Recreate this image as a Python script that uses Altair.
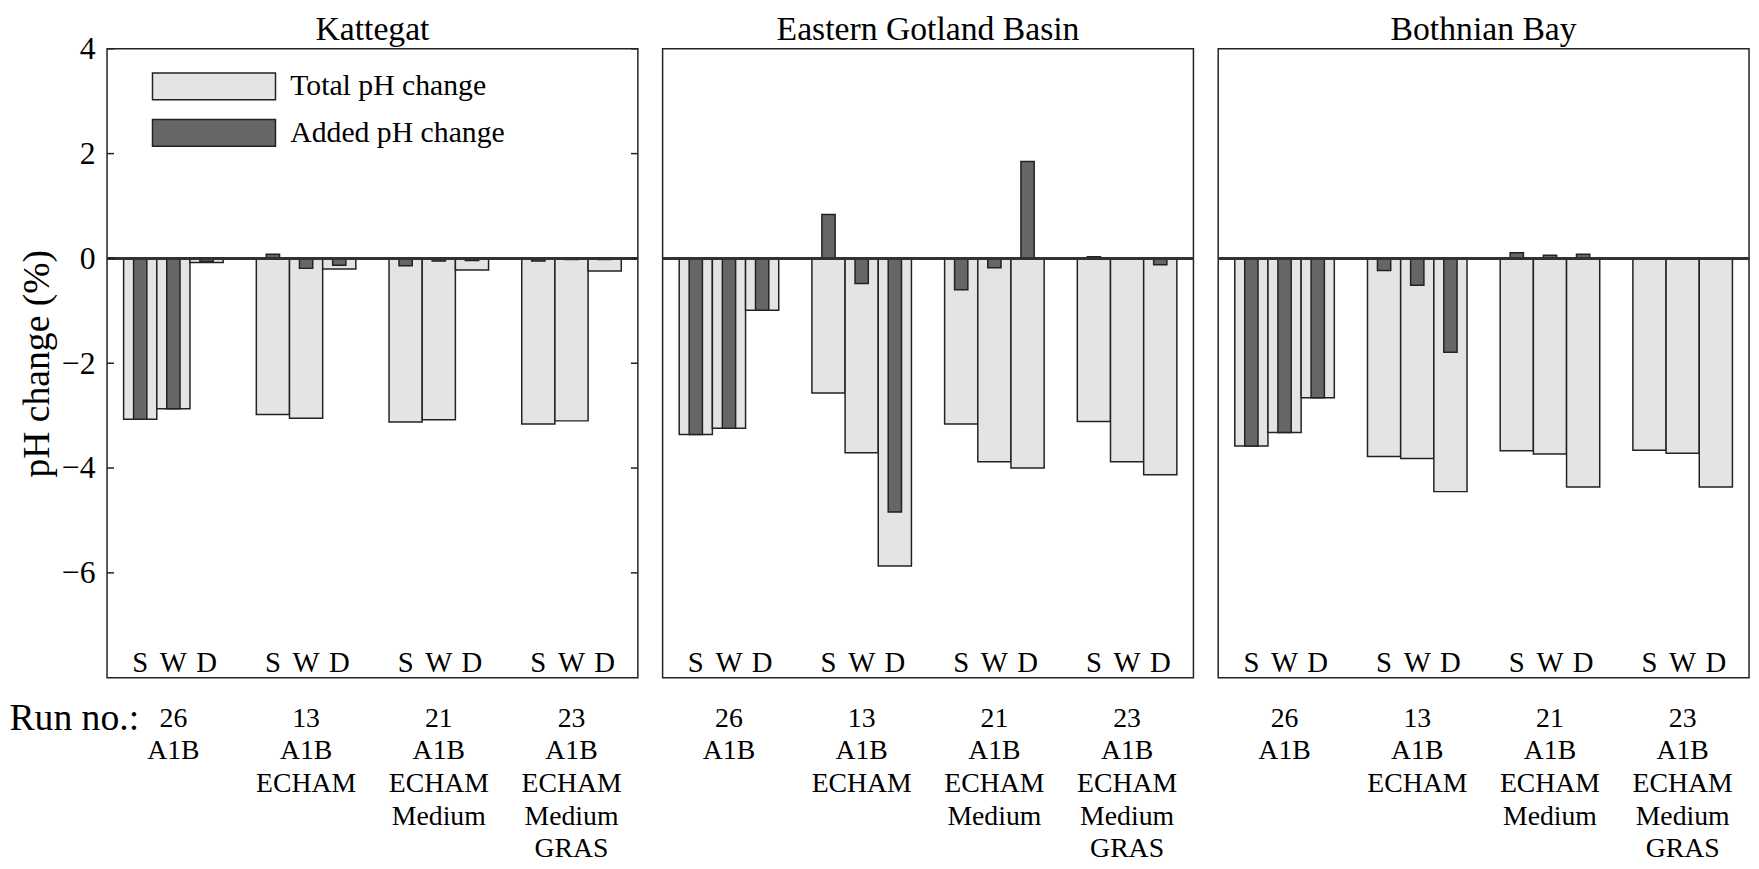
import altair as alt
import pandas as pd

regions = ["Kattegat", "Eastern Gotland Basin", "Bothnian Bay"]
runs = ["26|A1B", "13|A1B|ECHAM", "21|A1B|ECHAM|Medium", "23|A1B|ECHAM|Medium|GRAS"]
seasons = ["S", "W", "D"]
kinds = ["Total pH change", "Added pH change"]

kattegat_total = [-3.07, -2.87, -0.08, -2.98, -3.05, -0.20, -3.12, -3.08, -0.22, -3.16, -3.10, -0.24]
kattegat_added = [-3.07, -2.87, -0.06, 0.08, -0.19, -0.13, -0.14, -0.05, -0.04, -0.05, -0.02, -0.02]
gotland_total = [-3.36, -3.24, -0.99, -2.57, -3.71, -5.87, -3.16, -3.88, -4.00, -3.11, -3.88, -4.13]
gotland_added = [-3.36, -3.24, -0.99, 0.84, -0.48, -4.84, -0.60, -0.18, 1.85, 0.03, -0.01, -0.12]
bothnian_total = [-3.58, -3.32, -2.66, -3.78, -3.82, -4.45, -3.67, -3.73, -4.36, -3.66, -3.72, -4.36]
bothnian_added = [-3.58, -3.32, -2.66, -0.23, -0.51, -1.79, 0.11, 0.06, 0.08, -0.01, -0.01, 0.00]

totals = [kattegat_total, gotland_total, bothnian_total]
addeds = [kattegat_added, gotland_added, bothnian_added]

y_ticks = [4, 2, 0, -2, -4, -6]
y_domain = [-8, 4]

FONT = "Liberation Serif, Times New Roman, Times, DejaVu Serif, serif"
W, H = 536, 635
STROKE = "#222222"
TICK_FS = 32


def slot_key(i, s):
    # the middle (W) slot of each run carries the run label for the axis
    return f"W|{i}|{runs[i]}" if s == "W" else f"{s}|{i}"


slot_domain = []
for i in range(len(runs)):
    for s in seasons:
        slot_domain.append(slot_key(i, s))
    if i < len(runs) - 1:
        slot_domain.append(f"g|{i}")


def region_frame(total, added):
    rows = []
    for i in range(len(runs)):
        for j, s in enumerate(seasons):
            k = i * 3 + j
            rows.append({"slot": slot_key(i, s), "season": s, "kind": kinds[0], "value": total[k]})
            rows.append({"slot": slot_key(i, s), "season": s, "kind": kinds[1], "value": added[k]})
    return pd.DataFrame(rows)


label_df = pd.DataFrame([{"slot": slot_key(i, s), "season": s}
                         for i in range(len(runs)) for s in seasons])
tick_df = pd.DataFrame({"t": y_ticks})


def panel(idx):
    first = idx == 0
    df = region_frame(totals[idx], addeds[idx])

    x_axis = alt.Axis(
        labelExpr="indexof(datum.value, 'W|') == 0 ? split(slice(datum.value, 4), '|') : ''",
        labelFont=FONT, labelFontSize=28, labelLineHeight=33, labelPadding=27,
        labelAngle=0, labelBaseline="top", labelAlign="center", labelOverlap=False,
        labelLimit=0, ticks=False, domain=False, grid=False, labelColor="black",
        title="Run no.:" if first else None,
        titleFont=FONT, titleFontSize=38, titleFontWeight="normal",
        titleX=-99, titleY=22, titleAlign="left", titleBaseline="top",
        titleColor="black",
    )
    x_enc = alt.X("slot:N", sort=slot_domain,
                  scale=alt.Scale(domain=slot_domain, paddingInner=0, paddingOuter=0.5),
                  axis=x_axis)

    if first:
        y_axis = alt.Axis(values=y_ticks, title="pH change (%)", ticks=False, domain=False,
                          grid=False, labelFont=FONT, labelFontSize=TICK_FS, labelPadding=12,
                          titleFont=FONT, titleFontSize=38, titleFontWeight="normal",
                          titlePadding=5, labelColor="black", titleColor="black")
        legend = alt.Legend(orient="none", legendX=93, legendY=23, title=None,
                            symbolType="M-4.6,-1H4.6V1H-4.6Z", symbolSize=729,
                            symbolStrokeColor=STROKE, symbolStrokeWidth=1.5,
                            symbolOpacity=1, labelFont=FONT, labelFontSize=30,
                            labelOffset=62, rowPadding=13, labelColor="black",
                            labelLimit=500)
    else:
        y_axis = None
        legend = None

    y_scale = alt.Scale(domain=y_domain, nice=False, zero=False)
    y_enc = alt.Y("value:Q", scale=y_scale, axis=y_axis)
    color_enc = alt.Color("kind:N", scale=alt.Scale(domain=kinds, range=["#e4e4e4", "#666666"]),
                          legend=legend)

    base = alt.Chart(df)
    total_bars = base.transform_filter(alt.datum.kind == kinds[0]).mark_bar(
        stroke=STROKE, strokeWidth=1.5, opacity=1
    ).encode(x=x_enc, y=y_enc, color=color_enc)
    added_bars = base.transform_filter(alt.datum.kind == kinds[1]).mark_bar(
        stroke=STROKE, strokeWidth=1.5, opacity=1, width=alt.RelativeBandSize(0.4)
    ).encode(x=x_enc, y=y_enc, color=color_enc)

    zero = alt.Chart(df).mark_rule(color="#333333", strokeWidth=1.5).encode(y=alt.datum(0))

    swd = alt.Chart(label_df).mark_text(font=FONT, fontSize=29, baseline="alphabetic",
                                        color="black").encode(
        x=x_enc, y=alt.value(H - 6), text="season:N")

    layers = [total_bars, added_bars, zero, swd]
    if first:
        tick_axis = alt.Y("t:Q", scale=y_scale, axis=y_axis)
        left_ticks = alt.Chart(tick_df).mark_rule(color=STROKE, strokeWidth=1.5).encode(
            y=tick_axis, x=alt.value(0), x2=alt.value(7))
        right_ticks = alt.Chart(tick_df).mark_rule(color=STROKE, strokeWidth=1.5).encode(
            y=tick_axis, x=alt.value(W - 7), x2=alt.value(W))
        layers += [left_ticks, right_ticks]

    title_kw = dict(font=FONT, fontSize=34, fontWeight="normal", offset=2,
                    color="black", frame="group")
    if first:
        # the top tick label pokes above the frame; pull the title back down to match the others
        title_kw["dy"] = TICK_FS / 2

    return alt.layer(*layers).properties(
        width=W, height=H,
        title=alt.Title(regions[idx], **title_kw),
    )


chart = alt.hconcat(panel(0), panel(1), panel(2), spacing=21).resolve_scale(
    color="independent"
).resolve_legend(color="independent").properties(padding=0).configure(
    font=FONT
).configure_view(stroke=STROKE, strokeWidth=1.5)

chart.save("out.html", embed_options={"renderer": "svg", "actions": False})
